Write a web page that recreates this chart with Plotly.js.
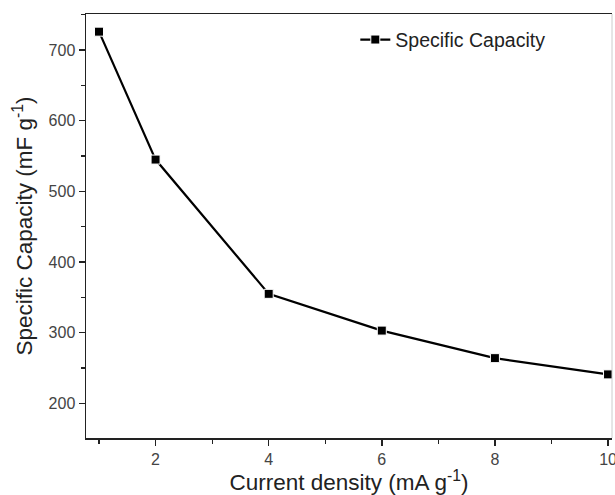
<!DOCTYPE html>
<html>
<head>
<meta charset="utf-8">
<script src="https://cdn.plot.ly/plotly-3.0.1.min.js"></script>
<style>html,body{margin:0;padding:0;background:#fff;}#chart{width:615px;height:495px;}</style>
</head>
<body>
<div id="chart"></div>
<script>
const currentDensity = [1, 2, 4, 6, 8, 10];
const specificCapacity = [726, 545, 355, 303, 264, 241];
const seriesName = 'Specific Capacity';
const xTickVals = [2, 4, 6, 8, 10];
const yTickVals = [200, 300, 400, 500, 600, 700];

const trace = {
  x: currentDensity,
  y: specificCapacity,
  name: seriesName,
  type: 'scatter',
  mode: 'lines+markers',
  line: {color: '#000', width: 2.2},
  marker: {symbol: 'square', size: 9, color: '#000', line: {color: '#fff', width: 1}}
};

const layout = {
  width: 615, height: 495,
  margin: {l: 86, r: 3, t: 14, b: 57},
  paper_bgcolor: '#fff', plot_bgcolor: '#fff',
  font: {family: 'Liberation Sans, Arial, sans-serif', color: '#333'},
  showlegend: true,
  legend: {x: 0.512, y: 0.985, xanchor: 'left', yanchor: 'top', font: {size: 19.5, color: '#222'}, bgcolor: 'rgba(0,0,0,0)'},
  xaxis: {
    range: [0.77, 10.07],
    tickvals: xTickVals,
    ticks: 'outside', ticklen: 6, tickwidth: 1.5, tickcolor: '#222',
    minor: {dtick: 1, tick0: 1, ticks: 'outside', ticklen: 4, tickwidth: 1.2, tickcolor: '#222'},
    showline: true, linecolor: '#222', linewidth: 1.5, mirror: true,
    showgrid: false, zeroline: false,
    ticklabeloverflow: 'allow',
    tickfont: {size: 16, color: '#444'},
    title: {text: 'Current density (mA g<sup>-1</sup>)', font: {size: 22.5, color: '#222'}, standoff: 6}
  },
  yaxis: {
    range: [151, 751],
    tickvals: yTickVals,
    ticks: 'outside', ticklen: 6, tickwidth: 1.5, tickcolor: '#222',
    minor: {dtick: 50, tick0: 150, ticks: 'outside', ticklen: 4, tickwidth: 1.2, tickcolor: '#222'},
    showline: true, linecolor: '#222', linewidth: 1.5,
    showgrid: false, zeroline: false,
    tickfont: {size: 16, color: '#444'},
    title: {text: 'Specific Capacity (mF g<sup>-1</sup>)', font: {size: 22.5, color: '#222'}, standoff: 9}
  },
  shapes: [{type: 'line', xref: 'paper', yref: 'paper', x0: 1, x1: 1, y0: 0, y1: 1, line: {color: '#ccc', width: 1}}]
};

Plotly.newPlot('chart', [trace], layout, {displayModeBar: false, staticPlot: true});
</script>
</body>
</html>
